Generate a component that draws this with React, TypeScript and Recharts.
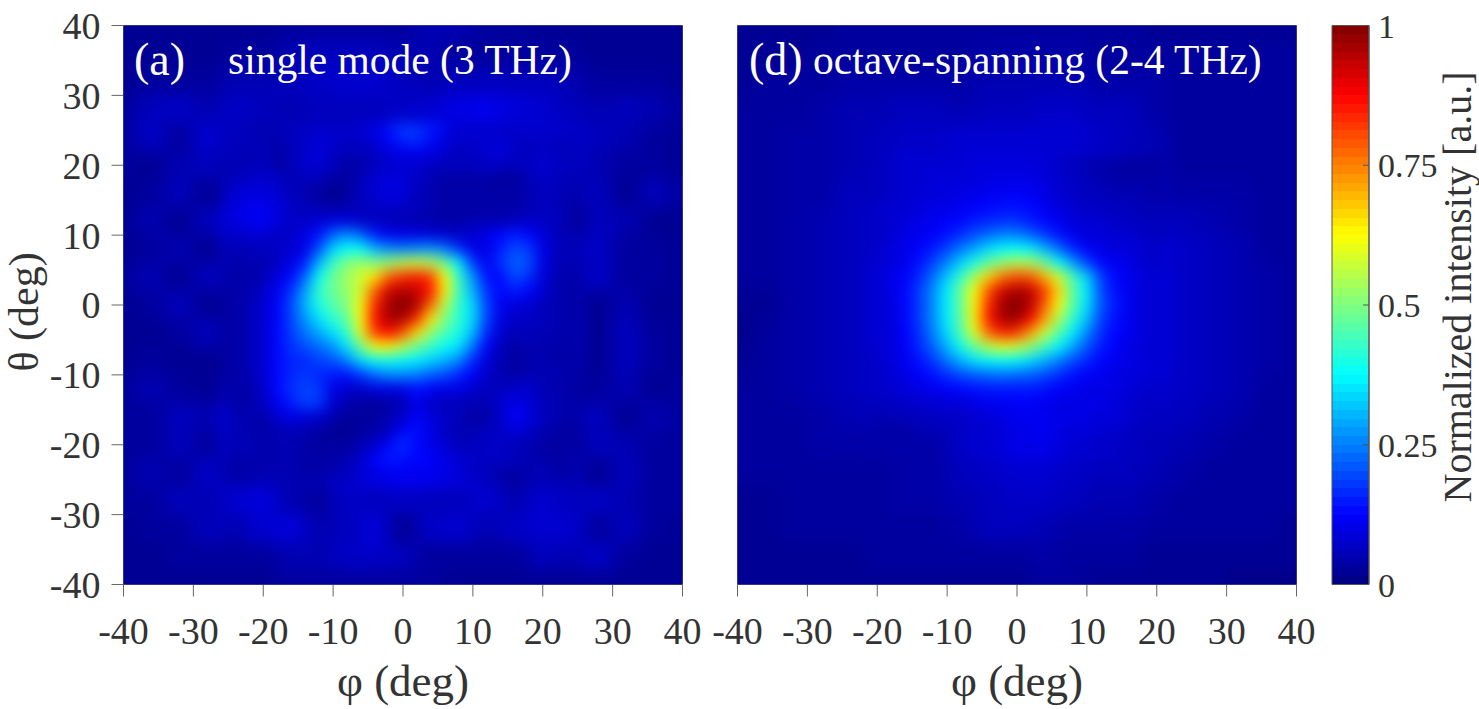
import { BarChart, Bar, ScatterChart, Scatter, XAxis, YAxis } from "recharts";

const axisTicks = [-40, -30, -20, -10, 0, 10, 20, 30, 40];
const barTicks = [0, 0.25, 0.5, 0.75, 1];
const barData = [{ name: "scale", level: 1 }];

// grid nodes in degrees, intensity in percent
const phiCoarse = [-40, -36, -32, -28, -24, -20, -16, -12, -8, -4, 0, 4, 8, 12, 16, 20, 24, 28, 32, 36, 40];
const thetaCoarse = [40, 36, 32, 28, 24, 20, 16, 12, 8, 4, 0, -4, -8, -12, -16, -20, -24, -28, -32, -36, -40];
const phiFineA = [-24, -22, -20, -18, -16, -14, -12, -10, -8, -6, -4, -2, 0, 2, 4, 6, 8, 10, 12, 14, 16, 18, 20, 22, 24];
const thetaFineA = [24, 22, 20, 18, 16, 14, 12, 10, 8, 6, 4, 2, 0, -2, -4, -6, -8, -10, -12, -14, -16, -18, -20, -22, -24];
const phiFineD = [-20, -18, -16, -14, -12, -10, -8, -6, -4, -2, 0, 2, 4, 6, 8, 10, 12, 14, 16, 18, 20];
const thetaFineD = [20, 18, 16, 14, 12, 10, 8, 6, 4, 2, 0, -2, -4, -6, -8, -10, -12, -14, -16, -18, -20];

const singleModeCoarse = [
  [2, 2, 2, 2, 2, 2, 3, 3, 3, 3, 3, 5, 5, 3, 3, 2, 2, 2, 2, 2, 2],
  [2, 2, 2, 2, 3, 3, 5, 6, 6, 6, 5, 5, 3, 3, 3, 3, 3, 2, 2, 2, 2],
  [2, 3, 3, 3, 5, 5, 6, 7, 8, 8, 6, 5, 6, 6, 6, 6, 5, 3, 3, 3, 2],
  [3, 6, 7, 5, 7, 6, 5, 6, 6, 6, 7, 8, 10, 11, 9, 8, 6, 5, 6, 5, 3],
  [3, 7, 3, 8, 6, 5, 6, 7, 7, 10, 17, 15, 8, 7, 7, 8, 8, 6, 5, 3, 2],
  [3, 2, 5, 6, 5, 7, 6, 6, 5, 6, 6, 7, 6, 5, 7, 9, 7, 5, 3, 3, 2],
  [2, 3, 6, 2, 6, 8, 7, 5, 2, 5, 9, 6, 3, 2, 3, 6, 5, 6, 2, 6, 3],
  [2, 5, 2, 6, 9, 11, 10, 7, 8, 7, 6, 6, 5, 3, 6, 5, 2, 6, 5, 2, 2],
  [2, 3, 5, 2, 7, 9, 10, 27, 42, 35, 28, 33, 20, 11, 19, 8, 6, 7, 3, 3, 2],
  [3, 5, 2, 6, 5, 8, 14, 38, 52, 58, 74, 74, 38, 12, 18, 9, 5, 7, 3, 3, 2],
  [2, 3, 6, 2, 3, 9, 18, 36, 48, 72, 99, 82, 36, 16, 10, 8, 5, 2, 5, 2, 2],
  [2, 2, 3, 6, 3, 10, 16, 26, 38, 66, 85, 55, 35, 14, 7, 7, 6, 2, 6, 3, 2],
  [2, 3, 2, 2, 3, 8, 14, 16, 22, 35, 38, 36, 28, 10, 5, 6, 5, 2, 6, 3, 2],
  [3, 5, 3, 2, 5, 7, 13, 15, 10, 12, 15, 11, 9, 8, 9, 6, 3, 3, 5, 2, 3],
  [3, 3, 6, 5, 9, 5, 11, 13, 7, 5, 10, 9, 5, 7, 10, 6, 5, 6, 2, 5, 3],
  [3, 3, 6, 3, 8, 5, 3, 3, 7, 11, 15, 9, 7, 6, 7, 6, 3, 6, 5, 3, 3],
  [3, 5, 3, 7, 5, 6, 5, 6, 8, 10, 11, 11, 9, 7, 3, 5, 6, 2, 6, 3, 3],
  [3, 3, 6, 5, 8, 9, 5, 3, 7, 6, 7, 6, 6, 8, 5, 8, 6, 7, 5, 3, 3],
  [2, 3, 3, 6, 5, 8, 9, 5, 6, 9, 2, 7, 8, 5, 7, 8, 8, 3, 6, 3, 2],
  [2, 2, 3, 3, 3, 3, 5, 5, 7, 7, 6, 3, 3, 3, 3, 6, 5, 7, 3, 2, 2],
  [2, 2, 2, 2, 2, 2, 3, 3, 3, 3, 3, 3, 2, 2, 2, 2, 2, 2, 2, 2, 2],
];

const singleModeFine = [
  [6, 6, 5, 5, 6, 7, 8, 8, 7, 7, 9, 13, 17, 18, 14, 10, 8, 8, 8, 8, 7, 7, 7, 7, 6],
  [6, 5, 6, 4, 5, 8, 9, 7, 6, 6, 7, 9, 11, 11, 10, 8, 6, 7, 8, 9, 7, 6, 7, 6, 6],
  [5, 5, 6, 4, 5, 8, 8, 6, 4, 4, 6, 8, 8, 8, 7, 6, 6, 6, 7, 7, 6, 7, 8, 7, 6],
  [6, 7, 8, 7, 5, 6, 6, 4, 3, 6, 8, 9, 9, 7, 5, 4, 4, 4, 4, 3, 3, 5, 7, 6, 5],
  [8, 9, 9, 8, 6, 5, 3, 1, 3, 6, 8, 10, 9, 6, 5, 4, 4, 4, 4, 4, 4, 5, 6, 6, 5],
  [9, 11, 11, 9, 7, 6, 5, 4, 5, 6, 7, 7, 7, 6, 5, 4, 4, 4, 4, 4, 4, 5, 6, 6, 4],
  [9, 11, 12, 9, 7, 7, 8, 9, 9, 7, 6, 6, 5, 5, 4, 4, 4, 5, 5, 5, 6, 7, 7, 6, 4],
  [7, 8, 8, 7, 7, 10, 14, 22, 26, 22, 15, 11, 10, 10, 9, 8, 7, 8, 10, 13, 15, 13, 9, 6, 5],
  [5, 6, 6, 7, 8, 10, 20, 33, 38, 38, 30, 26, 25, 26, 27, 24, 17, 10, 10, 15, 20, 18, 10, 6, 5],
  [4, 5, 5, 6, 10, 15, 30, 42, 50, 52, 50, 52, 55, 57, 55, 48, 36, 18, 11, 17, 22, 20, 10, 6, 5],
  [4, 4, 5, 9, 13, 22, 38, 48, 53, 58, 65, 78, 83, 85, 82, 62, 42, 27, 14, 13, 20, 17, 9, 5, 4],
  [4, 5, 7, 11, 17, 28, 42, 48, 52, 58, 78, 92, 95, 93, 86, 64, 44, 30, 17, 13, 15, 13, 8, 5, 4],
  [4, 5, 8, 12, 19, 30, 40, 46, 50, 62, 84, 96, 100, 96, 78, 56, 42, 34, 19, 11, 9, 8, 6, 5, 4],
  [4, 5, 8, 12, 19, 27, 35, 42, 47, 62, 86, 96, 96, 84, 65, 50, 42, 34, 19, 10, 7, 7, 6, 5, 4],
  [4, 5, 8, 13, 18, 24, 29, 35, 42, 60, 82, 87, 80, 66, 52, 45, 40, 31, 16, 8, 5, 6, 5, 5, 4],
  [4, 5, 8, 13, 17, 20, 23, 27, 35, 48, 62, 64, 56, 48, 43, 38, 35, 24, 12, 6, 4, 5, 5, 4, 4],
  [4, 5, 8, 13, 16, 16, 19, 20, 25, 34, 38, 39, 37, 36, 33, 30, 26, 16, 9, 5, 3, 4, 5, 4, 4],
  [4, 5, 8, 13, 16, 18, 16, 15, 14, 18, 23, 26, 26, 25, 22, 20, 16, 12, 7, 5, 4, 5, 5, 5, 4],
  [4, 4, 7, 13, 17, 19, 18, 10, 8, 7, 10, 10, 10, 14, 12, 10, 10, 8, 6, 6, 7, 8, 5, 5, 4],
  [4, 4, 7, 11, 15, 19, 18, 8, 5, 4, 3, 4, 5, 11, 7, 6, 6, 5, 5, 8, 10, 8, 6, 5, 4],
  [5, 5, 4, 8, 10, 9, 8, 5, 3, 3, 3, 5, 7, 12, 9, 7, 6, 4, 4, 7, 12, 10, 6, 5, 4],
  [5, 5, 4, 5, 6, 5, 4, 2, 2, 3, 4, 6, 12, 14, 10, 7, 5, 5, 6, 7, 9, 7, 5, 4, 3],
  [5, 6, 4, 5, 5, 4, 3, 3, 3, 5, 7, 12, 17, 13, 10, 8, 6, 6, 7, 7, 6, 5, 4, 3, 4],
  [4, 5, 4, 5, 5, 4, 4, 4, 5, 7, 12, 15, 14, 13, 12, 10, 8, 7, 7, 7, 6, 5, 4, 4, 4],
  [4, 4, 5, 5, 5, 4, 4, 5, 6, 8, 10, 11, 11, 11, 11, 10, 9, 7, 6, 4, 4, 5, 6, 4, 4],
];

const octaveCoarse = [
  [2, 2, 2, 2, 3, 3, 3, 3, 3, 3, 3, 3, 3, 3, 3, 2, 2, 2, 2, 2, 2],
  [2, 2, 2, 3, 3, 3, 3, 3, 3, 4, 4, 4, 4, 3, 3, 3, 3, 3, 3, 3, 3],
  [2, 3, 3, 3, 4, 4, 4, 4, 4, 5, 5, 5, 5, 4, 4, 4, 3, 3, 3, 3, 3],
  [3, 3, 3, 4, 5, 5, 6, 6, 5, 6, 6, 7, 7, 6, 6, 4, 3, 3, 3, 3, 3],
  [3, 3, 4, 4, 5, 6, 7, 7, 8, 8, 8, 8, 8, 7, 6, 5, 3, 3, 3, 3, 3],
  [3, 3, 4, 4, 5, 6, 8, 8, 9, 9, 9, 9, 8, 7, 6, 5, 3, 3, 3, 3, 3],
  [3, 3, 4, 4, 6, 6, 9, 10, 11, 11, 12, 11, 10, 8, 6, 5, 4, 4, 4, 3, 3],
  [3, 3, 4, 5, 6, 7, 9, 12, 15, 17, 17, 14, 11, 9, 8, 6, 6, 5, 4, 3, 3],
  [3, 3, 4, 5, 6, 7, 10, 15, 25, 35, 38, 34, 24, 14, 10, 9, 7, 6, 5, 3, 3],
  [3, 3, 4, 5, 6, 8, 12, 24, 42, 70, 80, 70, 44, 19, 12, 9, 7, 6, 5, 4, 3],
  [2, 2, 4, 5, 6, 8, 13, 26, 47, 84, 100, 79, 46, 21, 12, 9, 7, 6, 5, 4, 3],
  [1, 3, 4, 5, 6, 8, 12, 25, 45, 78, 83, 58, 36, 17, 12, 9, 7, 6, 5, 4, 3],
  [2, 3, 4, 5, 6, 7, 11, 18, 30, 37, 37, 30, 20, 13, 11, 9, 7, 6, 5, 4, 3],
  [3, 3, 4, 5, 6, 7, 9, 11, 13, 15, 15, 14, 11, 10, 10, 8, 7, 6, 5, 3, 3],
  [3, 3, 3, 4, 5, 6, 6, 7, 7, 9, 11, 11, 10, 10, 9, 7, 6, 5, 4, 3, 3],
  [3, 3, 3, 4, 4, 4, 4, 4, 7, 8, 10, 10, 8, 8, 7, 6, 5, 4, 3, 3, 3],
  [3, 3, 3, 3, 3, 3, 4, 4, 6, 7, 8, 8, 7, 6, 6, 5, 4, 3, 3, 3, 3],
  [2, 2, 3, 3, 3, 3, 4, 4, 5, 6, 7, 7, 6, 5, 5, 4, 3, 3, 3, 3, 3],
  [2, 2, 3, 3, 3, 3, 3, 3, 4, 6, 6, 5, 4, 4, 4, 3, 3, 3, 3, 3, 2],
  [2, 2, 2, 2, 2, 3, 3, 3, 3, 3, 3, 4, 3, 3, 3, 2, 2, 2, 2, 2, 2],
  [2, 2, 2, 2, 2, 2, 2, 2, 2, 2, 2, 3, 3, 2, 2, 2, 2, 2, 1, 1, 1],
];

const octaveFine = [
  [6, 7, 8, 8, 8, 8, 8, 9, 9, 9, 9, 9, 8, 7, 6, 5, 4, 4, 3, 3, 3],
  [6, 7, 8, 8, 9, 9, 9, 9, 10, 10, 10, 10, 9, 8, 7, 6, 5, 4, 4, 4, 4],
  [6, 7, 8, 8, 9, 9, 10, 10, 11, 11, 12, 11, 10, 8, 7, 6, 6, 5, 5, 5, 4],
  [7, 8, 8, 9, 10, 10, 11, 12, 13, 14, 14, 13, 11, 9, 8, 7, 7, 6, 6, 5, 5],
  [7, 8, 9, 10, 11, 12, 13, 15, 16, 17, 17, 15, 13, 11, 9, 8, 8, 7, 7, 6, 6],
  [7, 8, 10, 11, 12, 14, 17, 20, 23, 25, 25, 22, 18, 14, 11, 9, 9, 8, 8, 7, 6],
  [7, 9, 10, 12, 15, 19, 24, 29, 34, 37, 38, 36, 30, 23, 16, 12, 10, 9, 9, 8, 7],
  [8, 9, 11, 14, 19, 25, 33, 40, 47, 52, 55, 54, 48, 38, 28, 19, 13, 11, 10, 8, 7],
  [8, 10, 12, 16, 23, 32, 42, 54, 67, 76, 80, 79, 70, 58, 44, 33, 19, 13, 11, 9, 8],
  [8, 10, 13, 18, 26, 36, 48, 62, 80, 92, 96, 94, 82, 66, 47, 36, 20, 14, 11, 9, 8],
  [8, 9, 13, 18, 26, 36, 47, 63, 84, 97, 100, 95, 79, 62, 46, 35, 21, 15, 11, 9, 8],
  [8, 9, 13, 18, 26, 36, 47, 64, 86, 96, 97, 88, 72, 55, 42, 32, 19, 14, 11, 9, 8],
  [8, 9, 12, 17, 25, 34, 45, 60, 78, 85, 83, 72, 58, 46, 36, 26, 17, 13, 11, 9, 8],
  [8, 9, 12, 16, 22, 30, 39, 48, 56, 60, 58, 52, 44, 37, 29, 21, 15, 12, 10, 9, 8],
  [7, 9, 11, 14, 18, 24, 30, 35, 37, 38, 37, 34, 30, 25, 20, 16, 13, 11, 10, 9, 8],
  [7, 8, 10, 12, 14, 17, 20, 22, 23, 24, 23, 22, 20, 17, 14, 12, 11, 10, 9, 9, 8],
  [7, 8, 9, 10, 11, 12, 13, 14, 15, 15, 15, 15, 14, 12, 11, 10, 10, 10, 9, 8, 7],
  [6, 7, 7, 8, 8, 9, 9, 10, 11, 11, 12, 12, 11, 10, 10, 10, 10, 9, 8, 7, 7],
  [5, 5, 6, 6, 7, 7, 7, 8, 9, 10, 11, 11, 11, 10, 10, 10, 9, 9, 8, 7, 6],
  [4, 4, 4, 5, 5, 6, 7, 8, 8, 9, 10, 11, 11, 10, 9, 9, 8, 8, 7, 6, 6],
  [4, 4, 4, 4, 4, 5, 7, 8, 8, 9, 10, 10, 11, 9, 8, 8, 7, 7, 6, 6, 5],
];

const PAGE_W = 1479;
const PAGE_H = 709;
const TOP = 25.5;
const BOTTOM = 584.5;
const SIDE = 559;
const PX_PER_DEG = SIDE / 80;
const FONT = '"Liberation Serif", serif';
const TEXT = "#333";
const AXIS = "#666";

const clamp = (v: number) => Math.max(0, Math.min(1, v));

// MATLAB jet
function jet(v: number) {
  const r = clamp(Math.min(4 * v - 1.5, -4 * v + 4.5));
  const g = clamp(Math.min(4 * v - 0.5, -4 * v + 3.5));
  const b = clamp(Math.min(4 * v + 0.5, -4 * v + 2.5));
  return `rgb(${Math.round(r * 255)},${Math.round(g * 255)},${Math.round(b * 255)})`;
}

function toCells(phi: number[], theta: number[], rows: number[][], step: number) {
  const out: { phi: number; theta: number; value: number; step: number }[] = [];
  theta.forEach((t, i) => {
    phi.forEach((p, j) => {
      out.push({ phi: p, theta: t, value: rows[i][j] / 100, step });
    });
  });
  return out;
}

function Cell(props: any) {
  const { cx, cy, payload } = props;
  const w = payload.step * PX_PER_DEG + 1;
  return <rect x={cx - w / 2} y={cy - w / 2} width={w} height={w} fill={jet(payload.value)} />;
}

function tickStyle(size: number) {
  return { fontFamily: FONT, fontSize: size, fill: TEXT };
}

function HeatPanel(props: {
  id: string;
  left: number;
  coarse: number[][];
  fine: number[][];
  finePhi: number[];
  fineTheta: number[];
  showTheta?: boolean;
}) {
  const { id, left, coarse, fine, finePhi, fineTheta, showTheta } = props;
  return (
    <div style={{ position: "absolute", left: 0, top: 0 }}>
      <style>{`
        .coarse-${id} { filter: url(#soft-${id}); clip-path: url(#plot-${id}); }
        .fine-${id} { filter: url(#sharp-${id}); clip-path: url(#plot-${id}); }
      `}</style>
      <ScatterChart
        width={PAGE_W}
        height={PAGE_H}
        margin={{
          top: TOP - 20,
          left: left - 60,
          right: PAGE_W - left - SIDE - 20,
          bottom: PAGE_H - BOTTOM - 60,
        }}
      >
        <defs>
          <filter id={`soft-${id}`} filterUnits="userSpaceOnUse" x={0} y={0} width={PAGE_W} height={PAGE_H} colorInterpolationFilters="sRGB">
            <feGaussianBlur stdDeviation={9} />
          </filter>
          <filter id={`sharp-${id}`} filterUnits="userSpaceOnUse" x={0} y={0} width={PAGE_W} height={PAGE_H} colorInterpolationFilters="sRGB">
            <feGaussianBlur stdDeviation={7} />
          </filter>
          <clipPath id={`plot-${id}`}>
            <rect x={left} y={TOP} width={SIDE} height={SIDE} />
          </clipPath>
        </defs>
        <XAxis
          type="number"
          dataKey="phi"
          domain={[-40, 40]}
          ticks={axisTicks}
          interval={0}
          height={60}
          tickSize={12}
          tickMargin={21}
          tick={tickStyle(38)}
          stroke={AXIS}
        />
        <XAxis
          xAxisId="top"
          type="number"
          orientation="top"
          domain={[-40, 40]}
          ticks={axisTicks}
          interval={0}
          height={20}
          tickSize={12}
          tick={false}
          stroke={AXIS}
        />
        <YAxis
          type="number"
          dataKey="theta"
          domain={[-40, 40]}
          ticks={axisTicks}
          interval={0}
          width={60}
          tickSize={12}
          tickMargin={11}
          tick={showTheta ? tickStyle(38) : false}
          stroke={AXIS}
        />
        <YAxis
          yAxisId="right"
          type="number"
          orientation="right"
          domain={[-40, 40]}
          ticks={axisTicks}
          interval={0}
          width={20}
          tickSize={12}
          tick={false}
          stroke={AXIS}
        />
        <rect x={left} y={TOP} width={SIDE} height={SIDE} fill={jet(0.02)} />
        <Scatter
          className={`coarse-${id}`}
          data={toCells(phiCoarse, thetaCoarse, coarse, 4)}
          shape={Cell}
          isAnimationActive={false}
        />
        <Scatter
          className={`fine-${id}`}
          data={toCells(finePhi, fineTheta, fine, 2)}
          shape={Cell}
          isAnimationActive={false}
        />
      </ScatterChart>
    </div>
  );
}

// labels sit above the heat layers, so they get their own svg
function Labels() {
  return (
    <svg
      width={PAGE_W}
      height={PAGE_H}
      style={{ position: "absolute", left: 0, top: 0 }}
      fontFamily={FONT}
    >
      <text x={134} y={75} fontSize={46} fill="#fff">(a)</text>
      <text x={228} y={74} fontSize={41.5} fill="#fff">single mode (3 THz)</text>
      <text x={749} y={75} fontSize={46} fill="#fff">(d)</text>
      <text x={813} y={74} fontSize={41.5} fill="#fff">octave-spanning (2-4 THz)</text>
      <text x={403} y={696} textAnchor="middle" fontSize={45} fill={TEXT}>φ (deg)</text>
      <text x={1017} y={696} textAnchor="middle" fontSize={45} fill={TEXT}>φ (deg)</text>
      <text transform="translate(38,312) rotate(-90)" textAnchor="middle" fontSize={42} fill={TEXT}>
        θ (deg)
      </text>
      <text transform="translate(1471,287) rotate(-90)" textAnchor="middle" fontSize={40} fill={TEXT}>
        Normalized intensity [a.u.]
      </text>
    </svg>
  );
}

function ColorBar() {
  const stops: { offset: string; color: string }[] = [];
  for (let i = 0; i < 64; i++) {
    const color = jet((63 - i + 0.5) / 64);
    stops.push({ offset: `${(i / 64) * 100}%`, color });
    stops.push({ offset: `${((i + 1) / 64) * 100}%`, color });
  }
  return (
    <div style={{ position: "absolute", left: 0, top: 0 }}>
      <BarChart
        width={PAGE_W}
        height={PAGE_H}
        data={barData}
        barCategoryGap={0}
        margin={{ top: TOP, left: 1332, right: PAGE_W - 1369 - 80, bottom: PAGE_H - BOTTOM }}
      >
        <defs>
          <linearGradient id="jet-scale" x1="0" y1="0" x2="0" y2="1">
            {stops.map((s, i) => (
              <stop key={i} offset={s.offset} stopColor={s.color} />
            ))}
          </linearGradient>
        </defs>
        <XAxis dataKey="name" hide />
        <YAxis
          orientation="right"
          type="number"
          domain={[0, 1]}
          ticks={barTicks}
          interval={0}
          width={80}
          tickSize={-6}
          tickMargin={15}
          tick={tickStyle(34)}
          tickFormatter={(v: number) => String(v)}
          stroke="#555"
        />
        <Bar dataKey="level" fill="url(#jet-scale)" stroke="#555" isAnimationActive={false} />
      </BarChart>
    </div>
  );
}

export default function App() {
  return (
    <div style={{ position: "absolute", left: 0, top: 0, width: PAGE_W, height: PAGE_H, background: "#fff", overflow: "hidden" }}>
      <HeatPanel
        id="a"
        left={123.5}
        coarse={singleModeCoarse}
        fine={singleModeFine}
        finePhi={phiFineA}
        fineTheta={thetaFineA}
        showTheta
      />
      <HeatPanel
        id="d"
        left={737.5}
        coarse={octaveCoarse}
        fine={octaveFine}
        finePhi={phiFineD}
        fineTheta={thetaFineD}
      />
      <ColorBar />
      <Labels />
    </div>
  );
}
